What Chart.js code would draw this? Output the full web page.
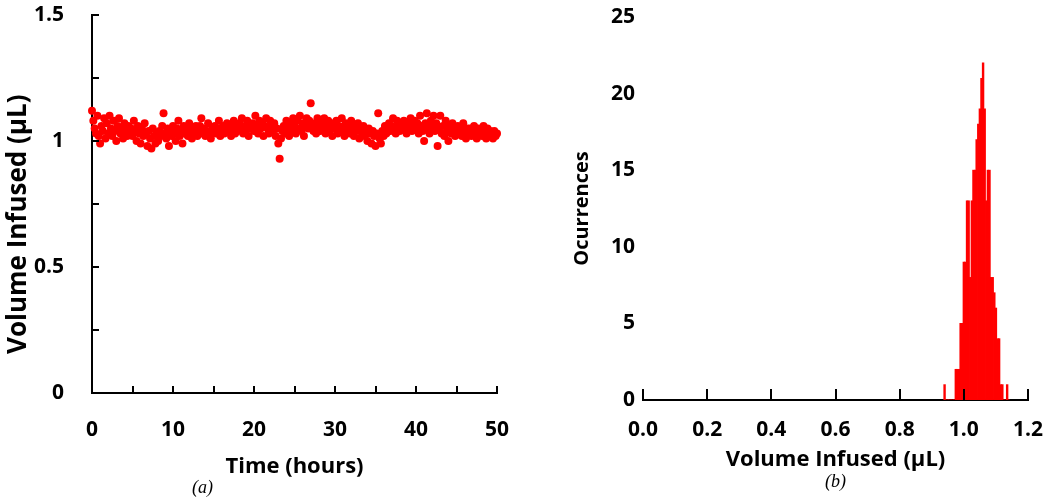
<!DOCTYPE html>
<html>
<head>
<meta charset="utf-8">
<script src="https://cdn.jsdelivr.net/npm/chart.js@4"></script>
<style>
  html, body { margin: 0; padding: 0; background: #fff; }
  #wrap { position: relative; width: 1050px; height: 501px; overflow: hidden; }
  .panel { position: absolute; top: 0; width: 525px; height: 501px; }
  .caption { position: absolute; font-family: "Liberation Serif", serif; font-style: italic; font-size: 18px; color: #000; }
</style>
</head>
<body>
<div id="wrap">
  <div class="panel" style="left:0"><canvas id="timeChart"></canvas></div>
  <div class="panel" style="left:525px"><canvas id="histChart"></canvas></div>
  <div class="caption" style="left:192px; top:477px">(a)</div>
  <div class="caption" style="left:825px; top:471px">(b)</div>
</div>
<script>
// Painel (a): volume por injeção, uma amostra a cada 10 min
const SAMPLE_INTERVAL_H = 1 / 6;
const volumeSeries = [
  1.12, 1.08, 1.05, 1.03, 1.10, 1.02, 0.99, 1.06, 1.04, 1.09,
  1.01, 1.07, 1.03, 1.10, 1.05, 1.02, 1.08, 1.04, 1.00, 1.06,
  1.09, 1.03, 1.05, 1.01, 1.07, 1.04, 1.02, 1.06, 1.03, 1.05,
  1.02, 1.08, 1.04, 1.00, 1.06, 1.03, 0.99, 1.05, 1.02, 1.07,
  1.03, 0.98, 1.04, 1.01, 0.97, 1.05, 1.02, 0.99, 1.03, 1.00,
  1.04, 1.02, 1.06, 1.11, 1.03, 1.01, 1.05, 0.98, 1.04, 1.02,
  1.06, 1.03, 1.00, 1.05, 1.08, 1.02, 1.04, 0.99, 1.06, 1.03,
  1.05, 1.02, 1.07, 1.04, 1.01, 1.05, 1.03, 1.06, 1.02, 1.04,
  1.06, 1.09, 1.03, 1.05, 1.02, 1.04, 1.07, 1.03, 1.01, 1.05,
  1.04, 1.06, 1.03, 1.05, 1.08, 1.02, 1.04, 1.06, 1.03, 1.05,
  1.07, 1.04, 1.06, 1.02, 1.05, 1.08, 1.03, 1.06, 1.04, 1.07,
  1.05, 1.09, 1.03, 1.06, 1.04, 1.08, 1.02, 1.06, 1.05, 1.07,
  1.04, 1.10, 1.06, 1.03, 1.08, 1.05, 1.07, 1.02, 1.06, 1.09,
  1.05, 1.03, 1.08, 1.06, 1.04, 1.07, 1.02, 1.05, 0.99, 0.93,
  1.01, 1.04, 1.06, 1.03, 1.08, 1.05, 1.02, 1.07, 1.04, 1.09,
  1.06, 1.03, 1.08, 1.05, 1.10, 1.04, 1.07, 1.02, 1.06, 1.09,
  1.05, 1.08, 1.15, 1.06, 1.04, 1.07, 1.03, 1.09, 1.06, 1.04,
  1.07, 1.05, 1.09, 1.03, 1.06, 1.08, 1.04, 1.06, 1.02, 1.07,
  1.05, 1.08, 1.03, 1.06, 1.04, 1.09, 1.05, 1.02, 1.07, 1.04,
  1.06, 1.03, 1.08, 1.05, 1.02, 1.06, 1.04, 1.07, 1.01, 1.05,
  1.03, 1.06, 1.02, 1.04, 1.00, 1.05, 1.03, 0.99, 1.04, 1.02,
  0.98, 1.03, 1.11, 1.01, 0.99, 1.04, 1.02, 1.06, 1.03, 1.05,
  1.07, 1.04, 1.06, 1.09, 1.05, 1.03, 1.08, 1.06, 1.04, 1.07,
  1.05, 1.08, 1.06, 1.03, 1.07, 1.05, 1.09, 1.04, 1.06, 1.08,
  1.05, 1.07, 1.03, 1.10, 1.06, 1.04, 1.00, 1.07, 1.11, 1.05,
  1.03, 1.08, 1.06, 1.10, 1.04, 1.07, 0.98, 1.05, 1.10, 1.03,
  1.06, 1.02, 1.08, 1.04, 1.00, 1.06, 1.03, 1.07, 1.05, 1.02,
  1.04, 1.06, 1.03, 1.05, 1.02, 1.07, 1.04, 1.01, 1.05, 1.03,
  1.05, 1.02, 1.04, 1.06, 1.03, 1.01, 1.05, 1.03, 1.04, 1.02,
  1.06, 1.03, 1.01, 1.05, 1.02, 1.04, 1.03, 1.01, 1.04, 1.02,
  1.03
];

// Painel (b): histograma (centro da classe, largura 0.005 µL)
const binCenters = [
  0.940, 0.945, 0.950, 0.955, 0.960, 0.965, 0.970, 0.975, 0.980, 0.985,
  0.990, 0.995, 1.000, 1.005, 1.010, 1.015, 1.020, 1.025, 1.030, 1.035,
  1.040, 1.045, 1.050, 1.055, 1.060, 1.065, 1.070, 1.075, 1.080, 1.085,
  1.090, 1.095, 1.100, 1.105, 1.110, 1.115, 1.120, 1.125, 1.130, 1.135,
  1.140
];
const binCounts = [
  1, 0, 0, 0, 0, 0, 0, 2, 2, 2,
  5, 5, 9, 9, 13, 13, 8, 13, 15, 15,
  17, 18, 19, 21, 22, 19, 13, 15, 15, 8,
  8, 7, 6, 4, 4, 1, 1, 0, 0, 1,
  0
];

const RED = 'rgb(255, 0, 0)';
const FONT = '"Open Sans", "DejaVu Sans", sans-serif';

// Marcas de escala voltadas para dentro
const innerTicks = {
    id: 'innerTicks',
    afterDraw(chart, args, opts) {
        const ctx = chart.ctx;
        ctx.save();
        ctx.strokeStyle = '#000';
        ctx.lineWidth = 2;
        if (opts.x) {
            const s = chart.scales.x;
            s.ticks.forEach(t => {
                const px = Math.round(s.getPixelForValue(t.value));
                ctx.beginPath();
                ctx.moveTo(px, s.top);
                ctx.lineTo(px, s.top - opts.x);
                ctx.stroke();
            });
        }
        if (opts.y) {
            const s = chart.scales.y;
            s.ticks.forEach(t => {
                const py = Math.round(s.getPixelForValue(t.value));
                ctx.beginPath();
                ctx.moveTo(s.right, py);
                ctx.lineTo(s.right + opts.y, py);
                ctx.stroke();
            });
        }
        ctx.restore();
    }
};

function axisBase() {
    return {
        grid: { display: false, drawTicks: false },
        border: { display: true, color: '#000', width: 2 },
    };
}

// o padding dos rótulos não deve empurrar a área do gráfico
function fixX(height) {
    return s => { s.height = height; s.paddingLeft = 0; s.paddingRight = 0; };
}
function fixY(width) {
    return s => { s.width = width; s.paddingTop = 0; s.paddingBottom = 0; };
}

// Gráfico (a)
const scatterPoints = volumeSeries.map((v, i) => ({ x: i * SAMPLE_INTERVAL_H, y: v }));

new Chart(document.getElementById('timeChart'), {
    type: 'scatter',
    data: {
        datasets: [{
            data: scatterPoints,
            backgroundColor: RED,
            borderWidth: 0,
            pointRadius: 4,
            clip: false
        }]
    },
    plugins: [innerTicks],
    options: {
        responsive: true,
        maintainAspectRatio: false,
        animation: false,
        layout: { padding: { top: 15, right: 28, left: 0, bottom: 0 } },
        plugins: {
            legend: { display: false },
            tooltip: { enabled: false },
            innerTicks: { x: 7, y: 7 }
        },
        scales: {
            x: {
                ...axisBase(),
                type: 'linear',
                min: 0,
                max: 50,
                afterFit: fixX(108),
                ticks: {
                    stepSize: 5,
                    autoSkip: false,
                    maxRotation: 0,
                    padding: 24,
                    color: '#000',
                    font: { family: FONT, size: 21, weight: 'bold' },
                    callback: v => (v % 10 === 0 ? v : '')
                },
                title: {
                    display: true,
                    text: 'Time (hours)',
                    color: '#000',
                    font: { family: FONT, size: 22, weight: 'bold' },
                    padding: { top: 0, bottom: 21 }
                }
            },
            y: {
                ...axisBase(),
                min: 0,
                max: 1.5,
                afterFit: fixY(92),
                ticks: {
                    stepSize: 0.25,
                    autoSkip: false,
                    padding: 28,
                    color: '#000',
                    font: { family: FONT, size: 21, weight: 'bold' },
                    callback: v => (v % 0.5 === 0 ? v : '')
                },
                title: {
                    display: true,
                    text: 'Volume Infused (\u00b5L)      ',
                    color: '#000',
                    font: { family: FONT, size: 26, weight: 'bold' },
                    padding: { top: 3, bottom: 0 }
                }
            }
        }
    }
});

// Gráfico (b)
const histPoints = binCenters.map((c, i) => ({ x: c, y: binCounts[i] }));

new Chart(document.getElementById('histChart'), {
    type: 'bar',
    data: {
        datasets: [{
            data: histPoints,
            backgroundColor: RED,
            borderWidth: 0,
            inflateAmount: 0.4,
            barPercentage: 1,
            categoryPercentage: 1
        }]
    },
    plugins: [innerTicks],
    options: {
        responsive: true,
        maintainAspectRatio: false,
        animation: false,
        layout: { padding: { top: 17, right: 22, left: 0, bottom: 0 } },
        plugins: {
            legend: { display: false },
            tooltip: { enabled: false },
            innerTicks: { x: 11 }
        },
        scales: {
            x: {
                ...axisBase(),
                type: 'linear',
                offset: false,
                min: 0,
                max: 1.2,
                afterFit: fixX(101),
                ticks: {
                    stepSize: 0.2,
                    autoSkip: false,
                    maxRotation: 0,
                    padding: 17,
                    color: '#000',
                    font: { family: FONT, size: 21, weight: 'bold' },
                    callback: v => Number(v).toFixed(1)
                },
                title: {
                    display: true,
                    text: 'Volume Infused (\u00b5L)',
                    color: '#000',
                    font: { family: FONT, size: 22, weight: 'bold' },
                    padding: { top: 0, bottom: 28 }
                }
            },
            y: {
                grid: { display: false, drawTicks: false },
                border: { display: false },
                min: 0,
                max: 25,
                afterFit: fixY(118),
                ticks: {
                    stepSize: 5,
                    autoSkip: false,
                    padding: 8,
                    color: '#000',
                    font: { family: FONT, size: 21, weight: 'bold' }
                },
                title: {
                    display: true,
                    text: 'Ocurrences',
                    color: '#000',
                    font: { family: FONT, size: 20, weight: 'bold' },
                    padding: { top: 45, bottom: 0 }
                }
            }
        }
    }
});
</script>
</body>
</html>
